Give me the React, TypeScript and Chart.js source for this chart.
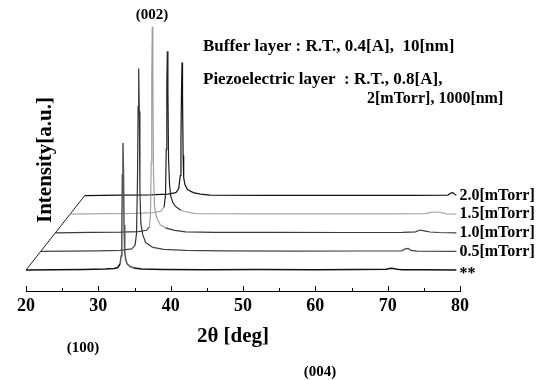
import { useEffect, useRef } from 'react';
import { Chart, registerables } from 'chart.js';

Chart.register(...registerables);

// ---- data (2θ in deg, intensity in a.u.) ----
const seriesNames = ['**', '0.5[mTorr]', '1.0[mTorr]', '1.5[mTorr]', '2.0[mTorr]'];

const thetaStar = [20, 24, 28, 31, 32.2, 32.7, 33.0, 33.15, 33.25, 33.32, 33.4, 33.48, 33.55, 33.65, 33.8, 34.0, 34.4, 34.9, 36, 39, 45, 52, 60, 66, 69.8, 70.4, 70.8, 71.3, 72, 75, 79.5];
const intStar = [0, 0.3, 0.6, 1, 1.5, 2.5, 6, 14, 40, 95, 127, 95, 45, 18, 10, 6, 3.5, 2, 1, 0.5, 0.3, 0.5, 0.3, 0.5, 0.8, 1.8, 1.5, 0.8, 0.3, 0.3, 0];

const theta05 = [20, 24, 28, 31, 32.6, 33.05, 33.25, 33.38, 33.47, 33.55, 33.63, 33.72, 33.85, 34.1, 34.5, 35.5, 37, 40, 45, 55, 65, 69.9, 70.4, 70.8, 71.2, 72, 77.47];
const int05 = [0, 0.3, 0.5, 1, 2.5, 6, 18, 70, 145, 183, 140, 60, 28, 17, 9, 4, 2, 1, 0.5, 0.3, 0.4, 0.5, 2.5, 3, 1, 0.3, 0];

const theta10 = [20, 25, 29, 31.5, 32.6, 33.0, 33.15, 33.25, 33.33, 33.4, 33.48, 33.57, 33.7, 34.0, 34.5, 35.2, 36.5, 38, 42, 50, 60, 68, 69.8, 70.4, 71, 71.8, 73, 75.44];
const int10 = [0, 0.4, 0.6, 1.2, 2.5, 6, 18, 70, 160, 206, 155, 60, 27, 15, 8, 5, 2.5, 1, 0.5, 0.4, 0.3, 0.4, 1, 2.8, 2, 0.8, 0.3, 0];

const theta15 = [20, 25, 29, 31.5, 32.6, 33.0, 33.2, 33.3, 33.38, 33.45, 33.53, 33.62, 33.75, 33.92, 34.2, 34.55, 35.3, 36.2, 37.4, 45, 55, 65, 69.2, 69.9, 70.6, 71.4, 72, 73.41];
const int15 = [0, 0.5, 0.8, 1.5, 3, 7, 20, 65, 130, 163, 125, 55, 30, 18, 12, 8, 4, 2, 0.5, 0.3, 0.3, 0.3, 0.5, 1.8, 2.2, 1.5, 0.4, 0];

const theta20 = [20, 25, 29, 31.5, 32.6, 33.0, 33.2, 33.3, 33.38, 33.45, 33.52, 33.6, 33.68, 33.85, 34.2, 35.0, 36, 37.3, 45, 55, 65, 70.2, 70.6, 70.9, 71.2, 71.38];
const int20 = [0, 0.4, 0.8, 1.5, 3, 7, 20, 55, 105, 133, 100, 40, 18, 11, 6, 3, 1.5, 0.5, 0.3, 0.2, 0.3, 0.5, 2.5, 3, 1, 0.5];

const xTickValues = [20, 30, 40, 50, 60, 70, 80];

// ---- layout / styling of the stacked (waterfall) display ----
const shiftTheta = 2.03;
const shiftY = 18.6;
const baseY = 21;
const baseColors = ['#111', '#444', '#3a3a3a', '#a8a8a8', '#111'];
const peakColors = ['#555', '#333', '#a0a0a0', '#222', '#111'];
const peakWindow = [32.9, 34.6];

const FONT = '"Liberation Serif", "Times New Roman", "DejaVu Serif", serif';

export default function App() {
  const ref = useRef<HTMLCanvasElement | null>(null);

  useEffect(() => {
    if (!ref.current) return;
    const thetas = [thetaStar, theta05, theta10, theta15, theta20];
    const ints = [intStar, int05, int10, int15, int20];

    const datasets: any[] = thetas.map((th, k) => ({
      label: seriesNames[k],
      data: th.map((t, i) => ({ x: t + k * shiftTheta, y: ints[k][i] + baseY + k * shiftY })),
      borderColor: baseColors[k],
      borderWidth: k === 0 ? 1.5 : 1.2,
      pointRadius: 0,
      tension: 0,
      fill: false,
      segment: {
        borderColor: (c: any) => {
          const raw = c.p0.parsed.x - k * shiftTheta;
          return raw >= peakWindow[0] && raw < peakWindow[1] ? peakColors[k] : baseColors[k];
        },
      },
    }));
    datasets.push({
      label: 'frame',
      data: [
        { x: 20, y: baseY },
        { x: 20 + 4 * shiftTheta, y: baseY + 4 * shiftY },
      ],
      borderColor: '#222',
      borderWidth: 1,
      pointRadius: 0,
      fill: false,
    });

    const annot = {
      id: 'annot',
      afterDraw(chart: any) {
        const ctx = chart.ctx as CanvasRenderingContext2D;
        const xs = chart.scales.x;
        const ys = chart.scales.y;
        ctx.save();
        // tick marks (upward)
        const axisY = Math.round(xs.top);
        ctx.strokeStyle = '#000';
        ctx.lineWidth = 1;
        xs.ticks.forEach((t: any) => {
          const px = Math.round(xs.getPixelForValue(t.value)) + 0.5;
          const len = xTickValues.includes(t.value) ? 5 : 3;
          ctx.beginPath();
          ctx.moveTo(px, axisY);
          ctx.lineTo(px, axisY - len);
          ctx.stroke();
        });

        const txt = (s: string, x: number, y: number, size: number, align: CanvasTextAlign = 'left') => {
          ctx.font = `bold ${size}px ${FONT}`;
          ctx.fillStyle = '#000';
          ctx.textAlign = align;
          ctx.textBaseline = 'middle';
          ctx.fillText(s, x, y);
        };

        txt('(002)', 152, 15, 15, 'center');
        txt('Buffer layer : R.T., 0.4[A],  10[nm]', 203, 47, 17);
        txt('Piezoelectric layer  : R.T., 0.8[A],', 203, 80, 17);
        txt('2[mTorr], 1000[nm]', 367, 99, 16);
        txt('2\u03b8 [deg]', 233, 337, 21, 'center');
        txt('(100)', 83, 348, 15, 'center');
        txt('(004)', 320, 372, 15, 'center');

        // series labels at right ends
        const lx = xs.getPixelForValue(79.5) + 3;
        seriesNames.forEach((n, k) => {
          const y = ys.getPixelForValue(baseY + k * shiftY);
          txt(n, lx, n === '**' ? y + 4 : y, 16);
        });

        // y title
        ctx.translate(46, 160);
        ctx.rotate(-Math.PI / 2);
        txt('Intensity[a.u.]', 0, 0, 21, 'center');
        ctx.restore();
      },
    };

    const chart = new Chart(ref.current, {
      type: 'line',
      data: { datasets },
      options: {
        responsive: false,
        animation: false,
        layout: { padding: { left: 26, right: 80, top: 11, bottom: 0 } },
        plugins: { legend: { display: false }, tooltip: { enabled: false } },
        scales: {
          x: {
            type: 'linear',
            min: 20,
            max: 80,
            afterFit: (s: any) => {
              s.height = 89;
            },
            ticks: {
              stepSize: 5,
              autoSkip: false,
              maxRotation: 0,
              padding: 5,
              color: '#000',
              font: { family: FONT, size: 18, weight: 'bold' },
              callback: (v: any) => (xTickValues.includes(Number(v)) ? String(v) : ''),
            },
            grid: { display: false, drawTicks: false },
            border: { display: true, color: '#000', width: 1 },
          },
          y: { type: 'linear', display: false, min: 0, max: 280 },
        },
      },
      plugins: [annot],
    });
    return () => chart.destroy();
  }, []);

  return (
    <div style={{ position: 'absolute', left: 0, top: 0, width: 540, height: 380, background: '#fff' }}>
      <canvas ref={ref} width={540} height={380} />
    </div>
  );
}
